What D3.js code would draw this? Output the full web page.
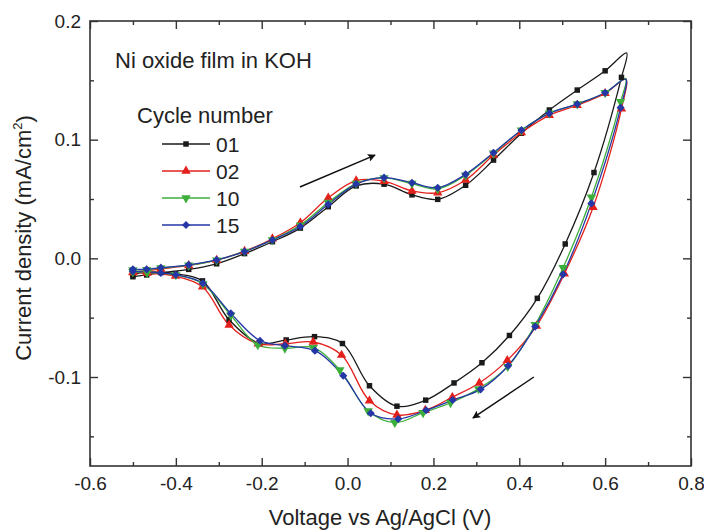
<!DOCTYPE html>
<html>
<head>
<meta charset="utf-8">
<script src="https://cdn.jsdelivr.net/npm/d3@7"></script>
<style>
  body { margin: 0; background: #fff; }
  svg { display: block; font-family: "Liberation Sans", Arial, sans-serif; }
</style>
</head>
<body>
<script>
// cycle labels
const cycles = ["01", "02", "10", "15"]

// anodic sweep (upper branch), then cathodic sweep (lower branch) for each cycle
const v01 = [-0.5, -0.468, -0.435, -0.37, -0.305, -0.24, -0.175, -0.11, -0.045, 0.02, 0.085, 0.15, 0.21, 0.275, 0.34, 0.405, 0.47, 0.535, 0.6, 0.65,
  0.638, 0.574, 0.507, 0.442, 0.377, 0.313, 0.248, 0.182, 0.115, 0.051, -0.012, -0.077, -0.143, -0.205, -0.276, -0.338, -0.401, -0.469, -0.5]
const i01 = [-0.0155, -0.014, -0.012, -0.0093, -0.0046, 0.004, 0.014, 0.0255, 0.0435, 0.061, 0.0625, 0.0535, 0.0497, 0.0616, 0.0828, 0.1054, 0.125, 0.1418, 0.158, 0.173,
  0.1525, 0.0723, 0.0121, -0.0337, -0.065, -0.088, -0.105, -0.1195, -0.1246, -0.1074, -0.0718, -0.066, -0.0688, -0.0718, -0.0518, -0.019, -0.013, -0.0117, -0.014]

const v02 = [-0.5, -0.468, -0.435, -0.37, -0.305, -0.24, -0.175, -0.11, -0.045, 0.02, 0.085, 0.15, 0.21, 0.275, 0.34, 0.405, 0.47, 0.535, 0.6, 0.648,
  0.638, 0.572, 0.505, 0.44, 0.372, 0.307, 0.244, 0.181, 0.115, 0.051, -0.014, -0.08, -0.145, -0.208, -0.276, -0.338, -0.401, -0.467, -0.5]
const i02 = [-0.0115, -0.0105, -0.009, -0.006, -0.0015, 0.006, 0.0165, 0.03, 0.051, 0.0655, 0.065, 0.0568, 0.0553, 0.066, 0.087, 0.106, 0.1205, 0.129, 0.139, 0.151,
  0.126, 0.043, -0.013, -0.057, -0.086, -0.105, -0.117, -0.128, -0.132, -0.12, -0.0815, -0.0705, -0.072, -0.072, -0.0562, -0.024, -0.015, -0.0125, -0.012]

const v10 = [-0.5, -0.468, -0.435, -0.37, -0.305, -0.24, -0.175, -0.11, -0.045, 0.02, 0.085, 0.15, 0.21, 0.275, 0.34, 0.405, 0.47, 0.535, 0.6, 0.648,
  0.636, 0.568, 0.502, 0.437, 0.373, 0.305, 0.24, 0.176, 0.11, 0.048, -0.018, -0.08, -0.146, -0.209, -0.272, -0.337, -0.4, -0.467, -0.5]
const i10 = [-0.0098, -0.0095, -0.0082, -0.0058, -0.0015, 0.0058, 0.0155, 0.028, 0.047, 0.063, 0.0678, 0.063, 0.0585, 0.07, 0.0885, 0.108, 0.1222, 0.13, 0.1395, 0.1515,
  0.132, 0.0515, -0.008, -0.056, -0.0913, -0.11, -0.1217, -0.1301, -0.1385, -0.1287, -0.0941, -0.0753, -0.0758, -0.073, -0.048, -0.0215, -0.014, -0.012, -0.0115]

const v15 = [-0.5, -0.468, -0.435, -0.37, -0.305, -0.24, -0.175, -0.11, -0.045, 0.02, 0.085, 0.15, 0.21, 0.275, 0.34, 0.405, 0.47, 0.535, 0.6, 0.648,
  0.636, 0.568, 0.502, 0.437, 0.374, 0.31, 0.245, 0.183, 0.118, 0.054, -0.01, -0.076, -0.146, -0.204, -0.272, -0.337, -0.4, -0.435, -0.5]
const i15 = [-0.0093, -0.0093, -0.0079, -0.0055, -0.0013, 0.0057, 0.0155, 0.0268, 0.0455, 0.0626, 0.068, 0.0637, 0.0595, 0.0708, 0.089, 0.108, 0.1222, 0.13, 0.1395, 0.151,
  0.127, 0.0463, -0.0135, -0.0575, -0.0905, -0.1104, -0.1194, -0.128, -0.1354, -0.1306, -0.0989, -0.0778, -0.0736, -0.0694, -0.0464, -0.021, -0.0138, -0.0124, -0.011]

const voltages = [v01, v02, v10, v15]
const currents = [i01, i02, i10, i15]

const xTicks = [-0.6, -0.4, -0.2, 0.0, 0.2, 0.4, 0.6, 0.8]
const xMinor = [-0.5, -0.3, -0.1, 0.1, 0.3, 0.5, 0.7]
const yTicks = [-0.1, 0.0, 0.1, 0.2]
const yMinor = [-0.15, -0.05, 0.05, 0.15]

// sweep direction arrows [v0, i0, v1, i1]
const arrowUp = [-0.111, 0.0601, 0.064, 0.087]
const arrowDown = [0.434, -0.1, 0.292, -0.1345]

const colors = ["#1a1a1a", "#e3201c", "#3cae3a", "#2536a6"]
const symbols = [d3.symbolSquare, d3.symbolTriangle, d3.symbolTriangle, d3.symbolDiamond2]
const symRot = [0, 0, 180, 0]
const symSize = [30, 38, 38, 42]

const width = 704
const height = 530
const plotLeft = 90, plotRight = 691, plotTop = 21, plotBottom = 466

const x = d3.scaleLinear([-0.6, 0.8], [plotLeft, plotRight])
const y = d3.scaleLinear([-0.175, 0.2], [plotBottom, plotTop])

const svg = d3.select("body").append("svg")
    .attr("width", width)
    .attr("height", height)

const axisColor = "#333"
// plain hyphen for negatives, like the original figure
const fmt = d => (Math.abs(d) < 1e-9 ? 0 : d).toFixed(1)

function styleAxis(g) {
    g.select(".domain").remove()
    g.selectAll("line").attr("stroke", axisColor).attr("stroke-width", 1.4)
    g.selectAll("text").attr("fill", "#222").style("font-size", "19px")
}

// bottom
svg.append("g").attr("transform", `translate(0,${plotBottom})`)
    .call(d3.axisBottom(x).tickValues(xTicks).tickFormat(fmt).tickSizeInner(-8).tickSizeOuter(0).tickPadding(11))
    .call(styleAxis)
svg.append("g").attr("transform", `translate(0,${plotBottom})`)
    .call(d3.axisBottom(x).tickValues(xMinor).tickFormat("").tickSizeInner(-4).tickSizeOuter(0))
    .call(styleAxis)
// top
svg.append("g").attr("transform", `translate(0,${plotTop})`)
    .call(d3.axisTop(x).tickValues(xTicks).tickFormat("").tickSizeInner(-8).tickSizeOuter(0))
    .call(styleAxis)
svg.append("g").attr("transform", `translate(0,${plotTop})`)
    .call(d3.axisTop(x).tickValues(xMinor).tickFormat("").tickSizeInner(-4).tickSizeOuter(0))
    .call(styleAxis)
// left
svg.append("g").attr("transform", `translate(${plotLeft},0)`)
    .call(d3.axisLeft(y).tickValues(yTicks).tickFormat(fmt).tickSizeInner(-8).tickSizeOuter(0).tickPadding(9))
    .call(styleAxis)
svg.append("g").attr("transform", `translate(${plotLeft},0)`)
    .call(d3.axisLeft(y).tickValues(yMinor).tickFormat("").tickSizeInner(-4).tickSizeOuter(0))
    .call(styleAxis)
// right
svg.append("g").attr("transform", `translate(${plotRight},0)`)
    .call(d3.axisRight(y).tickValues(yTicks).tickFormat("").tickSizeInner(-8).tickSizeOuter(0))
    .call(styleAxis)
svg.append("g").attr("transform", `translate(${plotRight},0)`)
    .call(d3.axisRight(y).tickValues(yMinor).tickFormat("").tickSizeInner(-4).tickSizeOuter(0))
    .call(styleAxis)

svg.append("rect")
    .attr("x", plotLeft).attr("y", plotTop)
    .attr("width", plotRight - plotLeft).attr("height", plotBottom - plotTop)
    .attr("fill", "none").attr("stroke", axisColor).attr("stroke-width", 1.6)

// axis titles
svg.append("text")
    .attr("x", 380).attr("y", 525)
    .attr("text-anchor", "middle")
    .attr("fill", "#222")
    .style("font-size", "22px")
    .text("Voltage vs Ag/AgCl (V)")

const yTitle = svg.append("text")
    .attr("transform", "translate(31,238) rotate(-90)")
    .attr("text-anchor", "middle")
    .attr("fill", "#222")
    .style("font-size", "22px")
yTitle.append("tspan").text("Current density (mA/cm")
yTitle.append("tspan").text("2").style("font-size", "13px").attr("dy", "-0.7em")
yTitle.append("tspan").text(")").attr("dy", "0.45em")

// curves
const line = d3.line()
    .x(d => x(d[0]))
    .y(d => y(d[1]))
    .curve(d3.curveCatmullRom.alpha(0.5))

cycles.forEach((c, k) => {
    const pts = voltages[k].map((v, j) => [v, currents[k][j]])
    svg.append("path")
        .attr("d", line(pts))
        .attr("fill", "none")
        .attr("stroke", colors[k])
        .attr("stroke-width", 1.3)
})

cycles.forEach((c, k) => {
    const pts = voltages[k].map((v, j) => [v, currents[k][j]])
    const turn = 19 // sweep reversal point carries no marker
    svg.append("g").selectAll("path")
        .data(pts.filter((d, j) => j !== turn))
        .join("path")
        .attr("transform", d => `translate(${x(d[0])},${y(d[1])}) rotate(${symRot[k]})`)
        .attr("d", d3.symbol(symbols[k], symSize[k]))
        .attr("fill", colors[k])
})

// arrows
svg.append("defs").append("marker")
    .attr("id", "head")
    .attr("viewBox", "0 0 10 10")
    .attr("refX", 9).attr("refY", 5)
    .attr("markerWidth", 8).attr("markerHeight", 8)
    .attr("markerUnits", "userSpaceOnUse")
    .attr("orient", "auto")
    .append("path").attr("d", "M0,0L10,5L0,10L2,5Z").attr("fill", "#111")

;[arrowUp, arrowDown].forEach(a => {
    svg.append("line")
        .attr("x1", x(a[0])).attr("y1", y(a[1]))
        .attr("x2", x(a[2])).attr("y2", y(a[3]))
        .attr("stroke", "#111").attr("stroke-width", 1.5)
        .attr("marker-end", "url(#head)")
})

// annotation and legend
svg.append("text")
    .attr("x", 115).attr("y", 68)
    .attr("fill", "#222")
    .style("font-size", "22px")
    .text("Ni oxide film in KOH")

svg.append("text")
    .attr("x", 137).attr("y", 123)
    .attr("fill", "#222")
    .style("font-size", "22px")
    .text("Cycle number")

const legend = svg.append("g")
    .selectAll("g")
    .data(cycles)
    .join("g")
    .attr("transform", (d, k) => `translate(0,${144 + k * 27})`)

legend.append("line")
    .attr("x1", 162).attr("x2", 210)
    .attr("stroke", (d, k) => colors[k]).attr("stroke-width", 1.3)
legend.append("path")
    .attr("transform", (d, k) => `translate(186,0) rotate(${symRot[k]})`)
    .attr("d", (d, k) => d3.symbol(symbols[k], symSize[k])())
    .attr("fill", (d, k) => colors[k])
legend.append("text")
    .attr("x", 216).attr("dy", "0.36em")
    .attr("fill", "#222")
    .style("font-size", "21px")
    .text(d => d)
</script>
</body>
</html>
